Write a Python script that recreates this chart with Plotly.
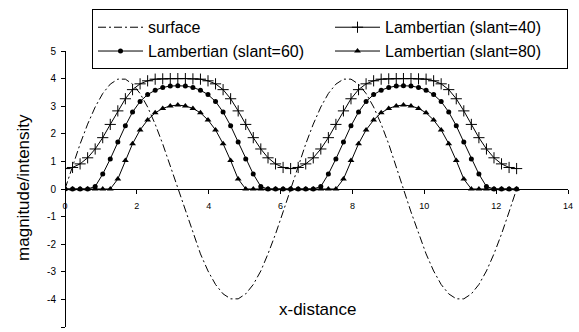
import plotly.graph_objects as go

x_dist = [0.00, 0.21, 0.42, 0.63, 0.84, 1.05, 1.26, 1.47, 1.68, 1.88,
          2.09, 2.30, 2.51, 2.72, 2.93, 3.14, 3.35, 3.56, 3.77, 3.98,
          4.19, 4.40, 4.61, 4.82, 5.03, 5.24, 5.45, 5.65, 5.86, 6.07,
          6.28, 6.49, 6.70, 6.91, 7.12, 7.33, 7.54, 7.75, 7.96, 8.17,
          8.38, 8.59, 8.80, 9.01, 9.22, 9.42, 9.63, 9.84, 10.05, 10.26,
          10.47, 10.68, 10.89, 11.10, 11.31, 11.52, 11.73, 11.94, 12.15, 12.36,
          12.57]

surface = [0, 0.83, 1.63, 2.35, 2.97, 3.46, 3.80, 3.98, 3.98, 3.80,
           3.46, 2.97, 2.35, 1.63, 0.83, 0, -0.83, -1.63, -2.35, -2.97,
           -3.46, -3.80, -3.98, -3.98, -3.80, -3.46, -2.97, -2.35, -1.63, -0.83,
           0, 0.83, 1.63, 2.35, 2.97, 3.46, 3.80, 3.98, 3.98, 3.80,
           3.46, 2.97, 2.35, 1.63, 0.83, 0, -0.83, -1.63, -2.35, -2.97,
           -3.46, -3.80, -3.98, -3.98, -3.80, -3.46, -2.97, -2.35, -1.63, -0.83,
           0]

slant40 = [0.74, 0.78, 0.91, 1.13, 1.45, 1.86, 2.34, 2.83, 3.27, 3.60,
           3.81, 3.92, 3.98, 3.99, 4.00, 4.00, 4.00, 3.99, 3.98, 3.92,
           3.81, 3.60, 3.27, 2.83, 2.34, 1.86, 1.45, 1.13, 0.91, 0.78,
           0.74, 0.78, 0.91, 1.13, 1.45, 1.86, 2.34, 2.83, 3.27, 3.60,
           3.81, 3.92, 3.98, 3.99, 4.00, 4.00, 4.00, 3.99, 3.98, 3.92,
           3.81, 3.60, 3.27, 2.83, 2.34, 1.86, 1.45, 1.13, 0.91, 0.78,
           0.74]

slant60 = [0, 0, 0, 0, 0.09, 0.54, 1.09, 1.70, 2.29, 2.79,
           3.17, 3.42, 3.58, 3.68, 3.73, 3.74, 3.73, 3.68, 3.58, 3.42,
           3.17, 2.79, 2.29, 1.70, 1.09, 0.54, 0.09, 0, 0, 0,
           0, 0, 0, 0, 0.09, 0.54, 1.09, 1.70, 2.29, 2.79,
           3.17, 3.42, 3.58, 3.68, 3.73, 3.74, 3.73, 3.68, 3.58, 3.42,
           3.17, 2.79, 2.29, 1.70, 1.09, 0.54, 0.09, 0, 0, 0,
           0]

slant80 = [0, 0, 0, 0, 0, 0, 0, 0.36, 1.03, 1.64,
           2.14, 2.50, 2.76, 2.92, 3.01, 3.04, 3.01, 2.92, 2.76, 2.50,
           2.14, 1.64, 1.03, 0.36, 0, 0, 0, 0, 0, 0,
           0, 0, 0, 0, 0, 0, 0, 0.36, 1.03, 1.64,
           2.14, 2.50, 2.76, 2.92, 3.01, 3.04, 3.01, 2.92, 2.76, 2.50,
           2.14, 1.64, 1.03, 0.36, 0, 0, 0, 0, 0, 0,
           0]

names = ["surface", "Lambertian (slant=40)", "Lambertian (slant=60)", "Lambertian (slant=80)"]
x_ticks = [0, 2, 4, 6, 8, 10, 12, 14]
y_ticks = [-5, -4, -3, -2, -1, 0, 1, 2, 3, 4, 5]

FONT = "Arial, Liberation Sans, sans-serif"
fig = go.Figure()
fig.add_trace(go.Scatter(x=x_dist, y=surface, name=names[0], mode="lines",
                         line=dict(color="black", width=1, dash="8px,3px,2px,3px")))
fig.add_trace(go.Scatter(x=x_dist, y=slant40, name=names[1], mode="lines+markers",
                         line=dict(color="black", width=1),
                         marker=dict(symbol="cross-thin", size=8, color="black",
                                     line=dict(color="black", width=1))))
fig.add_trace(go.Scatter(x=x_dist, y=slant60, name=names[2], mode="lines+markers",
                         line=dict(color="black", width=1),
                         marker=dict(symbol="circle", size=5, color="black",
                                     line=dict(width=0))))
fig.add_trace(go.Scatter(x=x_dist, y=slant80, name=names[3], mode="lines+markers",
                         line=dict(color="black", width=1),
                         marker=dict(symbol="triangle-up", size=6, color="black",
                                     line=dict(width=0))))

fig.update_layout(
    width=579, height=332,
    margin=dict(l=65, r=11, t=51, b=5),
    paper_bgcolor="white", plot_bgcolor="white",
    font=dict(family=FONT, color="black"),
    showlegend=True,
    legend=dict(orientation="h", x=1.0, xanchor="right", y=1.151, yanchor="top",
                bgcolor="white", bordercolor="black", borderwidth=1,
                font=dict(size=16, family=FONT, color="black"),
                itemwidth=45,
                entrywidth=177, entrywidthmode="pixels",
                traceorder="normal"),
    xaxis=dict(range=[0, 14], tickvals=x_ticks, ticktext=[str(v) for v in x_ticks],
               anchor="free", position=0.5, showline=True, linecolor="black", linewidth=1,
               ticks="outside", ticklen=4, tickcolor="black", tickwidth=1,
               ticklabelstandoff=4,
               tickfont=dict(size=9, family=FONT, color="black"),
               showgrid=False, zeroline=False),
    yaxis=dict(range=[-5, 5], tickvals=y_ticks, ticktext=[str(v) for v in y_ticks],
               anchor="free", position=0, showline=True, linecolor="black", linewidth=1,
               ticks="outside", ticklen=4, tickcolor="black", tickwidth=1,
               ticklabelstandoff=3,
               tickfont=dict(size=10, family=FONT, color="black"),
               showgrid=False, zeroline=False),
    annotations=[
        dict(text="x-distance", x=0.5027, y=0.064, xref="paper", yref="paper",
             showarrow=False, xanchor="center", yanchor="middle",
             font=dict(size=17, family=FONT, color="black")),
        dict(text="magnitude/intensity", x=-0.0815, y=0.504, xref="paper", yref="paper",
             showarrow=False, xanchor="center", yanchor="middle", textangle=-90,
             font=dict(size=17, family=FONT, color="black")),
    ],
)

fig.write_html("out.html")
